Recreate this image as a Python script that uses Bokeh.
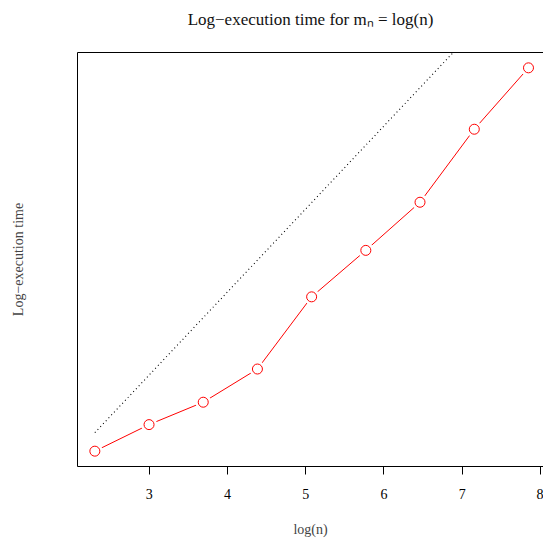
from bokeh.plotting import figure
from bokeh.models import Range1d, LinearAxis, FixedTicker
from bokeh.embed import file_html
from bokeh.resources import INLINE

# data
log_n = [2.303, 2.996, 3.689, 4.382, 5.075, 5.768, 6.461, 7.155, 7.848]
log_time = [-5.20, -4.88, -4.61, -4.21, -3.34, -2.78, -2.20, -1.32, -0.58]
ref_slope = 1.0
ref_intercept = -7.28
x_ticks = [3, 4, 5, 6, 7, 8]

title_text = "Log\u2212execution time for m\u2099 = log(n)"
xlab = "log(n)"
ylab = "Log\u2212execution time"

FONT = "Liberation Serif"

xmin, xmax = min(log_n), max(log_n)
ymin, ymax = min(log_time), max(log_time)
xpad = 0.04 * (xmax - xmin)
ypad = 0.04 * (ymax - ymin)

p = figure(width=543, height=539,
           x_range=Range1d(xmin - xpad, 8.04),
           y_range=Range1d(ymin - ypad, ymax + ypad),
           output_backend="svg", toolbar_location=None,
           min_border_left=77, min_border_right=0,
           min_border_top=52, min_border_bottom=71)

p.background_fill_color = "white"
p.border_fill_color = "white"
p.outline_line_color = None
p.xgrid.visible = False
p.ygrid.visible = False
p.title.visible = False

xa = p.xaxis[0]
xa.ticker = FixedTicker(ticks=x_ticks)
xa.major_tick_out = 8
xa.major_tick_in = 0
xa.minor_tick_out = 0
xa.minor_tick_in = 0
xa.major_label_standoff = 14
xa.major_label_text_font = FONT
xa.major_label_text_font_size = "14px"
xa.major_label_text_color = "black"
xa.axis_label = xlab
xa.axis_label_text_font = FONT
xa.axis_label_text_font_size = "14px"
xa.axis_label_text_font_style = "normal"
xa.axis_label_standoff = 20
xa.axis_line_color = "black"
xa.major_tick_line_color = "black"

ya = p.yaxis[0]
ya.ticker = FixedTicker(ticks=[])
ya.major_tick_out = 0
ya.minor_tick_out = 0
ya.major_label_text_font_size = "0px"
ya.axis_label = ylab
ya.axis_label_text_font = FONT
ya.axis_label_text_font_size = "14px"
ya.axis_label_text_font_style = "normal"
ya.axis_label_standoff = 52
ya.axis_line_color = "black"

# top frame line carrying the main title
top = LinearAxis(ticker=FixedTicker(ticks=[]), major_tick_out=0, minor_tick_out=0,
                 major_label_text_font_size="0px", axis_line_color="black",
                 axis_label=title_text, axis_label_text_font=FONT,
                 axis_label_text_font_size="17px", axis_label_text_font_style="normal",
                 axis_label_text_color="#111111", axis_label_standoff=24)
p.add_layout(top, "above")

# reference line (slope 1)
ref_y = [ref_slope * x + ref_intercept for x in log_n]
p.line(log_n, ref_y, line_color="black", line_width=1.1, line_dash="1 3")

# series, type="b" style with gaps
p.line(log_n, log_time, line_color="red", line_width=1)
p.scatter(log_n, log_time, size=16, fill_color="white", line_color=None)
p.scatter(log_n, log_time, size=10, fill_color=None, line_color="red", line_width=1)

open("out.html", "w").write(file_html(p, INLINE))
